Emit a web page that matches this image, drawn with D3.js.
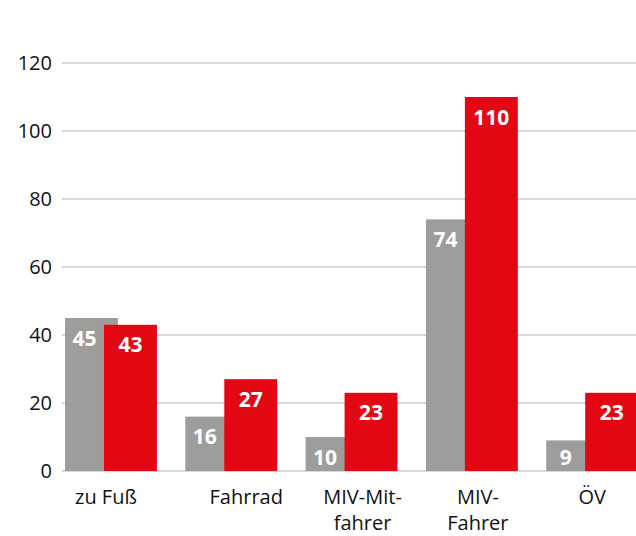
<!DOCTYPE html>
<html>
<head>
<meta charset="utf-8">
<script src="https://cdn.jsdelivr.net/npm/d3@7"></script>
<style>
html,body{margin:0;padding:0;background:#fff;}
svg{display:block;font-family:"Open Sans","Noto Sans",sans-serif;}
</style>
</head>
<body>
<svg id="chart" width="636" height="536"></svg>
<script>
const categories = ["zu Fuß", "Fahrrad", "MIV-Mitfahrer", "MIV-Fahrer", "ÖV"];
const categoryLines = [["zu Fuß"], ["Fahrrad"], ["MIV-Mit-", "fahrer"], ["MIV-", "Fahrer"], ["ÖV"]];
const seriesNames = ["Serie 1", "Serie 2"];
const seriesGray = [45, 16, 10, 74, 9];
const seriesRed = [43, 27, 23, 110, 23];
const yTicks = [0, 20, 40, 60, 80, 100, 120];

const colors = {"Serie 1": "#9d9d9c", "Serie 2": "#e30613"};
const values = {"Serie 1": seriesGray, "Serie 2": seriesRed};

const svg = d3.select("#chart");
const plotLeft = 62, baseY = 471, topY = 63;
const step = 120.3;

const x = d3.scaleBand().domain(categories).range([plotLeft, plotLeft + step * categories.length]).paddingInner(0).paddingOuter(0);
const y = d3.scaleLinear().domain([0, 120]).range([baseY, topY]);

const barW = x.bandwidth() * 0.44;
const barOffset = x.bandwidth() * 0.025;
const seriesStep = x.bandwidth() * 0.324;
const xs = d3.scaleOrdinal().domain(seriesNames).range([0, seriesStep]);

// gridlines
svg.append("g").selectAll("line").data(yTicks).join("line")
  .attr("x1", plotLeft).attr("x2", 636)
  .attr("y1", d => y(d)).attr("y2", d => y(d))
  .attr("stroke", "#d9d9d9").attr("stroke-width", 2);

// y tick labels
svg.append("g").selectAll("text").data(yTicks).join("text")
  .attr("x", 52).attr("y", d => y(d)).attr("dy", "0.35em")
  .attr("text-anchor", "end").attr("font-size", 20).attr("fill", "#111")
  .text(d => d);

// bars
const groups = svg.append("g").selectAll("g").data(seriesNames).join("g");
groups.selectAll("rect").data(s => categories.map((c, i) => ({s, c, v: values[s][i]}))).join("rect")
  .attr("x", d => x(d.c) + barOffset + xs(d.s))
  .attr("y", d => y(d.v))
  .attr("width", barW)
  .attr("height", d => y(0) - y(d.v))
  .attr("fill", d => colors[d.s]);

// value labels
const labelData = [];
seriesNames.forEach(s => categories.forEach((c, i) => labelData.push({s, c, v: values[s][i]})));
svg.append("g").selectAll("text").data(labelData).join("text")
  .attr("x", d => x(d.c) + barOffset + xs(d.s) + (d.s === "Serie 1" ? seriesStep / 2 : barW / 2))
  .attr("y", d => Math.min(y(d.v) + 20, baseY - 14))
  .attr("dy", "0.36em")
  .attr("text-anchor", "middle")
  .attr("font-size", 21).attr("font-weight", "bold").attr("fill", "#fff")
  .text(d => d.v);

// category labels
const labelNudge = [-5, 15, 11, 6, 0];
const cat = svg.append("g").selectAll("text").data(categories).join("text")
  .attr("x", (d, i) => x(d) + barOffset + (seriesStep + barW) / 2 + labelNudge[i])
  .attr("y", 504)
  .attr("text-anchor", "middle").attr("font-size", 20).attr("fill", "#111");
cat.selectAll("tspan").data((d, i) => categoryLines[i]).join("tspan")
  .attr("x", function() { return d3.select(this.parentNode).attr("x"); })
  .attr("dy", (d, j) => j === 0 ? 0 : 26)
  .text(d => d);
</script>
</body>
</html>
